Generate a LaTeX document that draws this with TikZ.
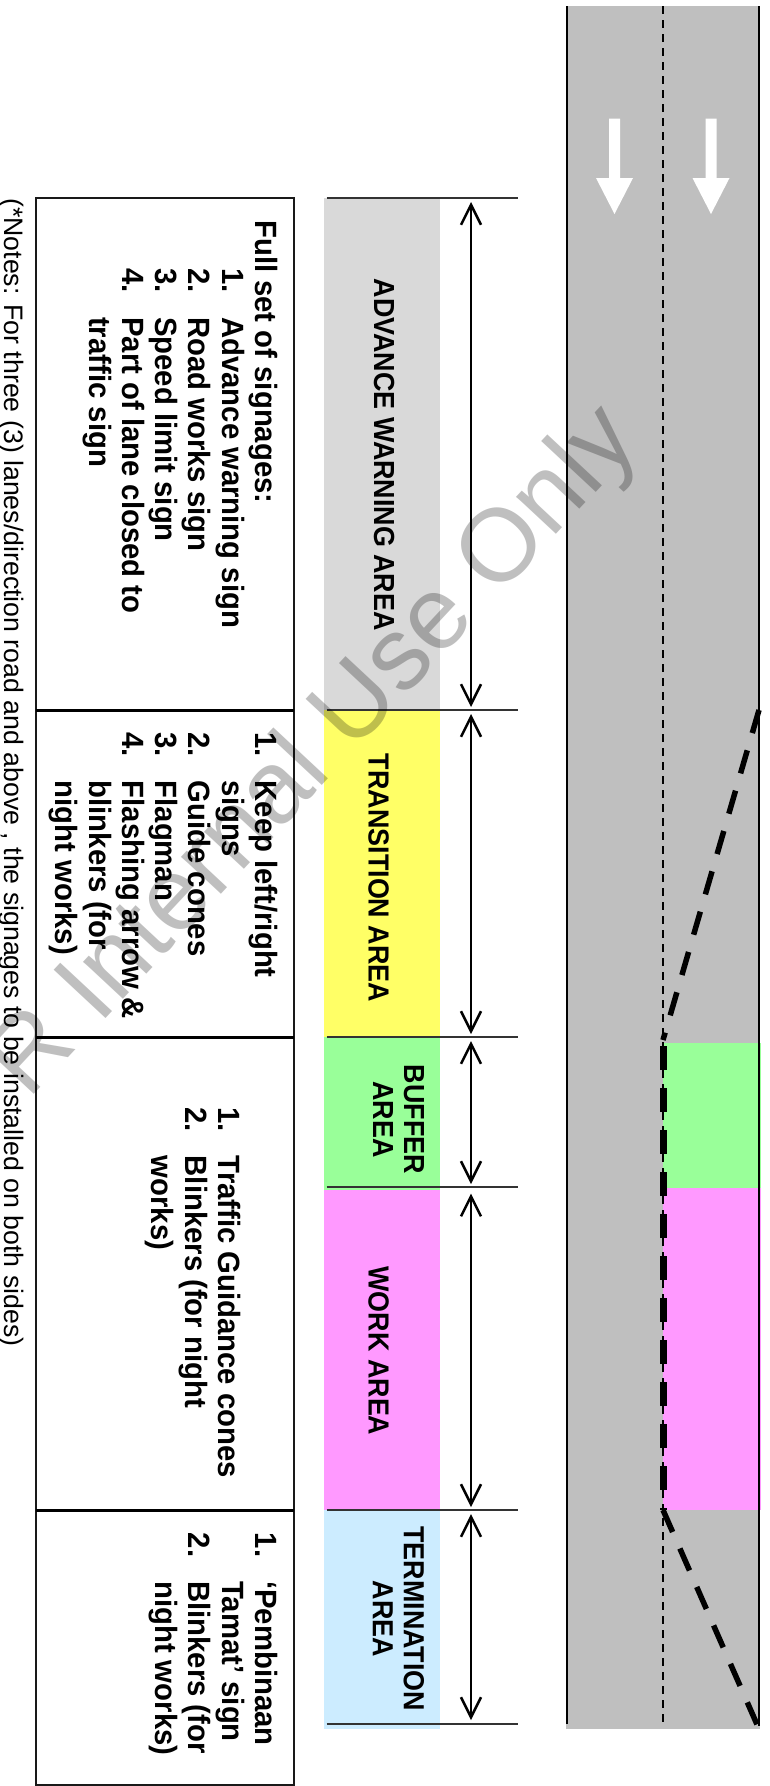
\documentclass[tikz,border=0pt]{standalone}
\usepackage{fontspec}
\setmainfont{Liberation Sans}
\usetikzlibrary{arrows.meta}
\definecolor{roadgrey}{HTML}{BFBFBF}
\definecolor{bandgrey}{HTML}{D9D9D9}
\definecolor{bandyellow}{HTML}{FFFF66}
\definecolor{bandgreen}{HTML}{99FF99}
\definecolor{bandpink}{HTML}{FF99FF}
\definecolor{bandblue}{HTML}{CCECFF}
\tikzset{
  listtext/.style={rotate=-90,yscale=1.05,anchor=north west,inner sep=0pt,font=\fontsize{29.3}{31.7}\selectfont\bfseries},
  arealabel/.style={rotate=-90,yscale=1.08,anchor=center,inner sep=0pt,align=center,font=\fontsize{26.9}{28.7}\selectfont\bfseries},
  notetext/.style={rotate=-90,anchor=base west,inner sep=0pt,font=\fontsize{26.7}{30}\selectfont},
  tickline/.style={line width=1.3pt,black!80},
  dimarrow/.style={line width=2.5pt,{Straight Barb[length=20pt,width=20pt,line width=2.5pt]}-{Straight Barb[length=20pt,width=20pt,line width=2.5pt]}},
  conedash/.style={line width=5.5pt,dash pattern=on 24pt off 18pt},
  frameline/.style={line width=2pt,black!90},
  rowline/.style={line width=3pt,black},
}
\begin{document}
\begin{tikzpicture}[x=1pt,y=-1pt]
\useasboundingbox (0,0) rectangle (769,1786);
% road
\fill[roadgrey] (566,6) rectangle (759.5,1729);
\fill[bandgreen] (663,1043) rectangle (760.5,1188);
\fill[bandpink] (663,1188) rectangle (760.5,1510);
\coordinate (roadLT) at (567,6);
\coordinate (roadLB) at (567,1724);
\coordinate (roadRT) at (759,6);
\coordinate (roadRB) at (759,1726);
\coordinate (midT) at (663,6);
\coordinate (midB) at (663,1724);
\draw[line width=2pt] (roadLT) -- (roadLB);
\draw[line width=2pt] (roadRT) -- (roadRB);
\draw[line width=1.8pt,dash pattern=on 8pt off 6pt] (midT) -- (midB);
% lane arrows
\fill[white] (609,118.5) -- (620,118.5) -- (620,178) -- (633,178) -- (614.5,214) -- (596,178) -- (609,178) -- cycle;
\fill[white] (705.5,118.5) -- (716.5,118.5) -- (716.5,178) -- (729.5,178) -- (711,214) -- (692.5,178) -- (705.5,178) -- cycle;
% cones
\coordinate (coneA) at (759,710);
\coordinate (coneB) at (663,1040);
\coordinate (coneC) at (663.5,1046);
\coordinate (coneD) at (663.5,1510);
\coordinate (coneE) at (663,1510);
\coordinate (coneF) at (759,1729);
\draw[conedash] (coneA) -- (coneB);
\draw[conedash,line width=7pt] (coneC) -- (coneD);
\draw[conedash] (coneE) -- (coneF);
% bands
\fill[bandgrey] (324,198) rectangle (439.5,710);
\fill[bandyellow] (324,710) rectangle (439.5,1037);
\fill[bandgreen] (324,1037) rectangle (439.5,1190);
\fill[bandpink] (324,1190) rectangle (439.5,1510);
\fill[bandblue] (324,1510) rectangle (439.5,1729);
% ticks
\foreach \nm/\yy in {a/198,b/710,c/1037,d/1187,e/1510,f/1724}{
  \coordinate (tl\nm) at (326.5,\yy);
  \coordinate (tr\nm) at (518,\yy);
  \draw[tickline] (tl\nm) -- (tr\nm);
}
% dimension arrows
\foreach \nm/\ya/\yb in {a/202/707,b/714/1034,c/1041/1184,d/1193.5/1507,e/1514/1720}{
  \coordinate (dim\nm T) at (471,\ya);
  \coordinate (dim\nm B) at (471,\yb);
  \draw[dimarrow] (dim\nm T) -- (dim\nm B);
}
% area labels
\node[arealabel] (advance) at (384,454.7) {ADVANCE WARNING AREA};
\node[arealabel] (transition) at (378.5,878) {TRANSITION AREA};
\node[arealabel] (buffer) at (398.5,1119.5) {BUFFER\\AREA};
\node[arealabel] (work) at (378.5,1351) {WORK AREA};
\node[arealabel] (termination) at (398.5,1618.7) {TERMINATION\\AREA};
% table
\coordinate (tabTL) at (36,198);
\coordinate (tabTR) at (293.5,198);
\coordinate (tabBL) at (36,1785);
\coordinate (tabBR) at (293.5,1785);
\draw[frameline] (tabTL) -- (tabTR) -- (tabBR) -- (tabBL) -- cycle;
\foreach \nm/\yy in {a/710,b/1037,c/1510}{
  \coordinate (rowL\nm) at (36,\yy);
  \coordinate (rowR\nm) at (293.5,\yy);
  \draw[rowline] (rowL\nm) -- (rowR\nm);
}
% table text
\node[listtext] (list1) at (279,220) {\begin{tabular}{@{}p{48.5pt}@{}p{48.5pt}@{}l@{}}
\multicolumn{3}{@{}l@{}}{Full set of signages:}\\
&1.&Advance warning sign\\
&2.&Road works sign\\
&3.&Speed limit sign\\
&4.&Part of lane closed to\\
&&traffic sign
\end{tabular}};
\node[listtext] (list2) at (279,732) {\begin{tabular}{@{}p{48.5pt}@{}l@{}}
1.&Keep left/right\\
&signs\\
2.&Guide cones\\
3.&Flagman\\
4.&Flashing arrow \&\\
&blinkers (for\\
&night works)
\end{tabular}};
\node[listtext] (list3) at (242,1107) {\begin{tabular}{@{}p{48.5pt}@{}l@{}}
1.&Traffic Guidance cones\\
2.&Blinkers (for night\\
&works)
\end{tabular}};
\node[listtext] (list4) at (279,1532.5) {\begin{tabular}{@{}p{48.5pt}@{}l@{}}
1.&‘Pembinaan\\
&Tamat’ sign\\
2.&Blinkers (for\\
&night works)
\end{tabular}};
\node[notetext] (note) at (5,198) {(*Notes: For three (3) lanes/direction road and above , the signages to be installed on both sides)};
% watermark
\begin{scope}
\clip (0,0) rectangle (769,1786);
\node[rotate=47,anchor=base east,inner sep=0pt,text=black,text opacity=.25,font=\fontsize{103}{103}\selectfont] (mark) at (642,443) {R Internal Use Only};
\end{scope}
\end{tikzpicture}
\end{document}
